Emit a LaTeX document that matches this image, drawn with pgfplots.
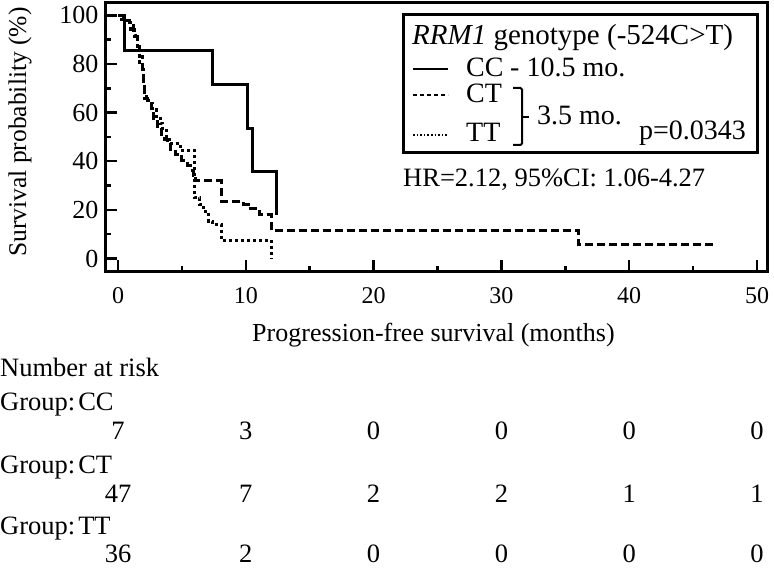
\documentclass[border=0pt]{standalone}
\usepackage{fontspec}
\setmainfont{Liberation Serif}
\usepackage{pgfplots}
\pgfplotsset{compat=1.18}

\begin{document}
\begin{tikzpicture}
\path[use as bounding box] (0pt,0pt) rectangle (774pt,568pt);
\begin{axis}[
    scale only axis,
    width=662.5pt, height=269pt,
    at={(105pt,296pt)}, anchor=south west,
    xmin=-1.02, xmax=50.82,
    ymin=-5.56, ymax=105.1,
    xtick={0,10,...,50}, ytick={0,20,...,100},
    minor x tick num=1, minor y tick num=1,
    xtick pos=bottom, ytick pos=left,
    tick align=inside,
    major tick length=12pt, minor tick length=6pt,
    tick style={line width=2.5pt, black},
    axis line style={line width=3pt},
    /pgf/number format/assume math mode=true,
    xticklabel style={font=\fontsize{24}{28}\selectfont, anchor=base, yshift=-32pt},
    yticklabel style={font=\fontsize{26}{30}\selectfont, anchor=east, xshift=-3pt},
    xlabel={Progression-free survival (months)},
    ylabel={Survival probability (\%)},
    xlabel style={font=\fontsize{26}{30}\selectfont, at={(rel axis cs:0.4958,-0.2602)}, anchor=base},
    ylabel style={font=\fontsize{25.5}{30}\selectfont, at={(rel axis cs:-0.1283,0.5204)}, anchor=center},
    clip=false,
]
% CC
\addplot[const plot, line width=3pt, black] coordinates {
    (0,100)(0.47,85.7)(7.4,71.4)(10.1,53.6)(10.55,35.7)(12.4,17.9)
};
% CT
\addplot[const plot, line width=3pt, black, dash pattern=on 8pt off 4pt] coordinates {
    (0,100)(0.4,97.9)(0.9,95.7)(1.2,91.5)(1.5,87.2)(1.7,83.0)(1.9,76.6)
    (2.0,72.3)(2.1,66.0)(2.3,63.8)(2.6,59.6)(2.8,57.4)(3.1,53.2)(3.4,51.1)
    (3.6,48.9)(3.9,46.8)(4.1,44.7)(4.5,42.6)(5.0,40.4)(5.4,38.3)(5.7,36.2)
    (5.9,34.0)(6.1,31.9)(8.1,23.4)(9.8,22.2)(10.2,20.4)(11.1,18.0)
    (12.0,11.7)(36.0,5.8)(46.6,5.8)
};
% TT
\addplot[const plot, line width=3pt, black, dash pattern=on 3pt off 3pt] coordinates {
    (0,100)(0.3,97.2)(1.0,94.4)(1.3,91.7)(1.5,86.1)(1.7,80.6)(1.9,77.8)
    (2.0,72.2)(2.1,66.7)(2.4,63.9)(2.7,61.1)(3.0,58.3)(3.3,55.6)(3.5,52.8)
    (3.8,50.0)(4.0,47.2)(4.9,44.4)(5.95,25.0)(6.4,22.2)(6.7,19.4)(7.1,15.3)
    (7.4,13.9)(8.1,7.6)(12.0,0)
};
\end{axis}

% legend and number-at-risk table, in pixel coordinates from the top left
\begin{scope}[shift={(0pt,568pt)}, yscale=-1,
    every node/.style={inner sep=0pt, anchor=base west, font=\fontsize{26.5}{30}\selectfont}]
\draw[line width=3pt] (403pt,15pt) rectangle (757pt,153pt);
\node[font=\fontsize{29}{32}\selectfont] at (412pt,45pt) {\textit{RRM1} genotype (-524C>T)};
\draw[line width=2.5pt] (413pt,69pt) -- (448pt,69pt);
\draw[line width=2pt, dash pattern=on 4pt off 3pt] (413pt,95pt) -- (448pt,95pt);
\draw[line width=2pt, dash pattern=on 1.6pt off 2pt] (413pt,135pt) -- (448pt,135pt);
\node[font=\fontsize{28}{32}\selectfont] at (466pt,77pt) {CC};
\node[font=\fontsize{28}{32}\selectfont] at (510pt,77pt) {- 10.5 mo.};
\node[font=\fontsize{28}{32}\selectfont] at (466pt,103pt) {CT};
\node[font=\fontsize{28}{32}\selectfont] at (466pt,142pt) {TT};
\draw[line width=2pt, rounded corners=1.5pt] (513pt,88pt) -- (522pt,88pt) -- (522pt,145pt) -- (513pt,145pt);
\draw[line width=2pt] (522pt,117pt) -- (529pt,117pt);
\node[font=\fontsize{28}{32}\selectfont] at (537pt,125pt) {3.5 mo.};
\node[font=\fontsize{28}{32}\selectfont] at (639pt,140pt) {p=0.0343};
\node at (403pt,187pt) {HR=2.12, 95\%CI: 1.06-4.27};

\node at (0pt,377pt) {Number at risk};
\node at (0pt,411pt) {Group:\hspace{3pt}CC};
\node at (0pt,474pt) {Group:\hspace{3pt}CT};
\node at (0pt,534pt) {Group:\hspace{3pt}TT};
\foreach \x/\a/\b/\c in {118/7/47/36, 245.8/3/7/2, 373.6/0/2/0, 501.4/0/2/0, 629.2/0/1/0, 757/0/1/0} {
    \node[anchor=base] at (\x pt,440pt) {\a};
    \node[anchor=base] at (\x pt,502pt) {\b};
    \node[anchor=base] at (\x pt,562pt) {\c};
}
\end{scope}
\end{tikzpicture}
\end{document}
